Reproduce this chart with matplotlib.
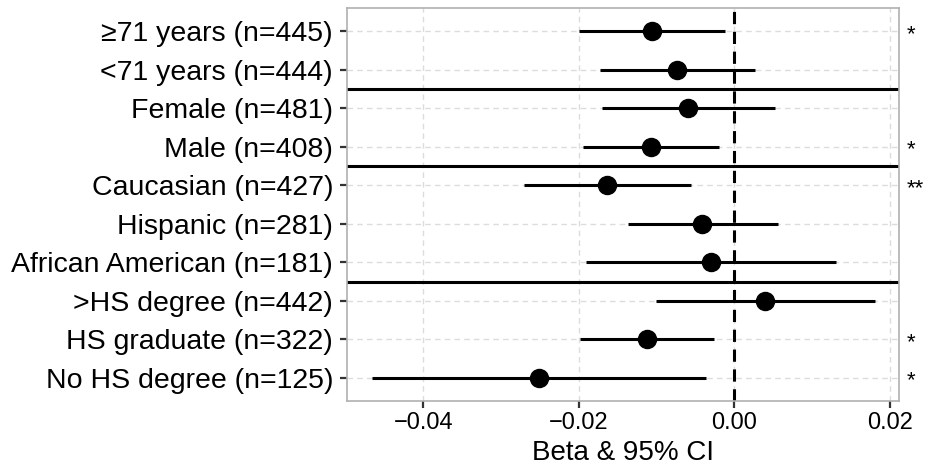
import numpy as np
import matplotlib
matplotlib.use('Agg')
import matplotlib.pyplot as plt

plt.rcParams['font.family'] = ['Liberation Sans', 'DejaVu Sans']

# subgroup labels (top to bottom)
labels = ['≥71 years (n=445)', '<71 years (n=444)', 'Female (n=481)', 'Male (n=408)',
          'Caucasian (n=427)', 'Hispanic (n=281)', 'African American (n=181)',
          '>HS degree (n=442)', 'HS graduate (n=322)', 'No HS degree (n=125)']
beta = [-0.0106, -0.0073, -0.0059, -0.0107, -0.0164, -0.0042, -0.0030, 0.0039, -0.0112, -0.0251]
lower = [-0.0199, -0.0172, -0.0170, -0.0194, -0.0270, -0.0137, -0.0191, -0.0101, -0.0198, -0.0466]
upper = [-0.0012, 0.0027, 0.0052, -0.0020, -0.0055, 0.0056, 0.0131, 0.0181, -0.0026, -0.0036]
stars = ['*', '', '', '*', '**', '', '', '', '*', '*']
# group separators (between rows, counted from top)
seps = [2, 4, 7]

n = len(labels)
ypos = np.arange(n, 0, -1)

fig = plt.figure(figsize=(9.28, 4.70), dpi=100)
ax = fig.add_axes([0.3739, 0.1468, 0.5949, 0.8362])

ax.set_xlim(-0.0498, 0.0212)
ax.set_ylim(0.4, n + 0.6)

# grid
for x in [-0.04, -0.02, 0.0, 0.02]:
    ax.axvline(x, color='#dcdcdc', lw=1, ls=(0, (4, 3)), zorder=0)
for y in ypos:
    ax.axhline(y, color='#dcdcdc', lw=1, ls=(0, (4, 3)), zorder=0)

ax.axvline(0, color='black', lw=2.2, ls=(0, (4, 2.5)), zorder=2)
for s in seps:
    ax.axhline(n - s + 0.5, color='black', lw=2.2, zorder=2)

ax.hlines(ypos, lower, upper, color='black', lw=2.2, zorder=3)
ax.plot(beta, ypos, 'o', color='black', ms=13, zorder=4)

for y, s in zip(ypos, stars):
    if s:
        ax.text(1.014, y - 0.08, s, transform=ax.get_yaxis_transform(), ha='left', va='center',
                fontsize=16, color='black')

ax.set_yticks(ypos)
ax.set_yticklabels(labels, fontsize=20.5, color='black')
ax.set_xticks([-0.04, -0.02, 0.0, 0.02])
ax.set_xticklabels(['\u22120.04', '\u22120.02', '0.00', '0.02'], fontsize=17, color='black')
ax.set_xlabel('Beta & 95% CI', fontsize=20, labelpad=4)
ax.tick_params(axis='both', length=5, width=1.6, color='#333333', pad=3)
ax.tick_params(axis='y', pad=5)

for sp in ax.spines.values():
    sp.set_color('#b0b0b0')
    sp.set_linewidth(1.2)

fig.savefig('out.png', dpi=100)
